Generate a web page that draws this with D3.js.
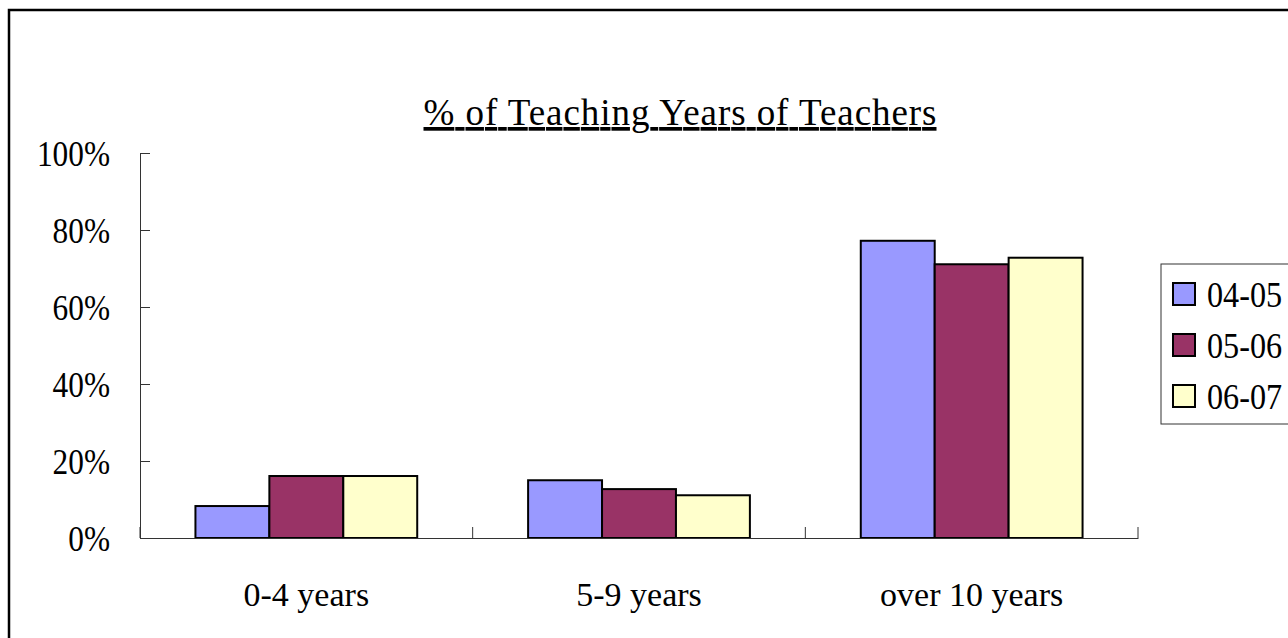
<!DOCTYPE html>
<html>
<head>
<meta charset="utf-8">
<script src="https://cdn.jsdelivr.net/npm/d3@7"></script>
<style>
  body { margin: 0; background: #fff; }
  text { font-family: "Liberation Serif", "Times New Roman", serif; fill: #000; }
</style>
</head>
<body>
<script>
// Width and height
var w = 1288;
var h = 638;

// data
var categories = ["0-4 years", "5-9 years", "over 10 years"];
var seriesNames = ["04-05", "05-06", "06-07"];
var values0405 = [0.083, 0.150, 0.772];
var values0506 = [0.161, 0.127, 0.711];
var values0607 = [0.161, 0.111, 0.728];
var yTicks = [0, 0.2, 0.4, 0.6, 0.8, 1.0];
var colors = ["#9999FF", "#993366", "#FFFFCC"];

var seriesValues = [values0405, values0506, values0607];

var svg = d3.select("body")
            .append("svg")
            .attr("width", w)
            .attr("height", h);

// outer frame
svg.append("rect")
   .attr("x", 9)
   .attr("y", 10)
   .attr("width", 1400)
   .attr("height", 700)
   .attr("fill", "none")
   .attr("stroke", "#000")
   .attr("stroke-width", 2.5);

var x = d3.scaleBand()
          .domain(categories)
          .range([140, 1138]);

var xInner = d3.scaleBand()
               .domain(seriesNames)
               .range([0, x.bandwidth()])
               .paddingOuter(0.75);

var y = d3.scaleLinear()
          .domain([0, 1])
          .range([538, 153]);

// title
svg.append("text")
   .attr("x", 680)
   .attr("y", 125)
   .attr("text-anchor", "middle")
   .attr("font-size", "37px")
   .attr("text-decoration", "underline")
   .attr("textLength", 513)
   .attr("lengthAdjust", "spacing")
   .text("% of Teaching Years of Teachers");

// bars
var rows = [];
seriesNames.forEach(function(s, si) {
    categories.forEach(function(c, ci) {
        rows.push({ cat: c, series: s, value: seriesValues[si][ci], color: colors[si] });
    });
});

svg.selectAll("rect.bar")
   .data(rows)
   .enter()
   .append("rect")
   .attr("class", "bar")
   .attr("x", function(d) { return x(d.cat) + xInner(d.series); })
   .attr("y", function(d) { return y(d.value); })
   .attr("width", xInner.bandwidth())
   .attr("height", function(d) { return y(0) - y(d.value); })
   .attr("fill", function(d) { return d.color; })
   .attr("stroke", "#000")
   .attr("stroke-width", 2);

// y axis
var yAxis = svg.append("g")
   .attr("transform", "translate(140,0)")
   .call(d3.axisLeft(y).tickValues(yTicks).tickSize(-10).tickPadding(30).tickFormat(d3.format(".0%")));
yAxis.select(".domain").attr("stroke", "#333");
yAxis.selectAll(".tick line").attr("stroke", "#333");
yAxis.selectAll("text")
   .attr("font-family", "Liberation Serif, serif")
   .attr("font-size", "36px")
   .attr("dy", "0.36em")
   .each(function() {
       var len = this.getComputedTextLength();
       d3.select(this).attr("textLength", len * 0.87).attr("lengthAdjust", "spacingAndGlyphs");
   });

// x axis
var xAxis = svg.append("g")
   .attr("transform", "translate(0,538)")
   .call(d3.axisBottom(x).tickSize(0).tickPadding(0).tickSizeOuter(0));
xAxis.select(".domain").attr("stroke", "#333");
xAxis.selectAll("text")
   .attr("font-family", "Liberation Serif, serif")
   .attr("font-size", "34px")
   .attr("dy", null)
   .attr("y", 68);

var bounds = categories.map(function(c) { return x(c); }).concat([x.range()[1]]);
xAxis.selectAll("line.bound")
   .data(bounds)
   .enter()
   .append("line")
   .attr("class", "bound")
   .attr("x1", function(d) { return d; })
   .attr("x2", function(d) { return d; })
   .attr("y1", 0)
   .attr("y2", -11)
   .attr("stroke", "#333");

// legend
var legend = svg.append("g");
legend.append("rect")
   .attr("x", 1161)
   .attr("y", 264)
   .attr("width", 200)
   .attr("height", 160)
   .attr("fill", "#fff")
   .attr("stroke", "#333")
   .attr("stroke-width", 1);

var items = legend.selectAll("g.item")
   .data(seriesNames)
   .enter()
   .append("g")
   .attr("class", "item")
   .attr("transform", function(d, i) { return "translate(1173," + (294 + i * 51) + ")"; });

items.append("rect")
   .attr("x", 0)
   .attr("y", -11)
   .attr("width", 22)
   .attr("height", 22)
   .attr("fill", function(d, i) { return colors[i]; })
   .attr("stroke", "#000")
   .attr("stroke-width", 2);

items.append("text")
   .attr("x", 34)
   .attr("dy", "0.36em")
   .attr("font-size", "35px")
   .text(function(d) { return d; })
   .each(function() {
       var len = this.getComputedTextLength();
       d3.select(this).attr("textLength", len * 0.92).attr("lengthAdjust", "spacingAndGlyphs");
   });
</script>
</body>
</html>
